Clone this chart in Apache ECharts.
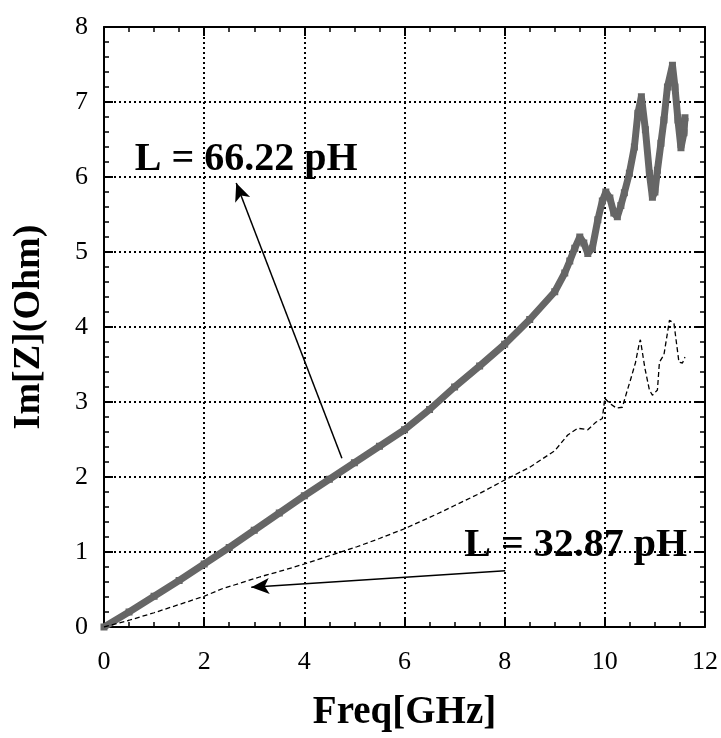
<!DOCTYPE html>
<html><head><meta charset="utf-8">
<script src="https://cdn.jsdelivr.net/npm/echarts@6/dist/echarts.min.js"></script>
<style>html,body{margin:0;padding:0;background:#fff}#c{width:721px;height:738px}</style>
</head><body><div id="c"></div>
<script>
// L = 66.22 pH curve (GHz, Ohm)
const thickX = [0,0.5,1,1.5,2,2.5,3,3.5,4,4.5,5,5.5,6,6.5,7,7.5,8,8.5,9,9.2,9.3,9.4,9.5,9.58,9.66,9.75,9.86,9.95,10.02,10.1,10.18,10.25,10.32,10.39,10.49,10.59,10.66,10.73,10.81,10.89,10.95,11.0,11.05,11.12,11.18,11.25,11.35,11.4,11.46,11.52,11.58,11.6];
const thickY = [0,0.2,0.41,0.62,0.84,1.06,1.29,1.52,1.75,1.97,2.19,2.41,2.63,2.9,3.2,3.48,3.77,4.1,4.47,4.72,4.88,5.05,5.2,5.12,4.98,5.05,5.43,5.68,5.8,5.72,5.52,5.47,5.62,5.79,6.05,6.4,6.85,7.07,6.63,6.05,5.73,5.8,6.09,6.45,6.76,7.2,7.49,7.2,6.76,6.39,6.59,6.79];
// L = 32.87 pH curve
const thinX = [0,0.5,1,1.5,2,2.36,2.6,3.12,3.5,4,4.5,5.05,5.5,6,6.66,7,7.5,8,8.5,9,9.26,9.46,9.66,9.82,9.95,10.0,10.1,10.23,10.35,10.41,10.51,10.61,10.69,10.71,10.8,10.89,10.95,11.05,11.09,11.18,11.25,11.29,11.38,11.48,11.55,11.6];
const thinY = [0,0.09,0.19,0.3,0.41,0.51,0.56,0.67,0.74,0.84,0.95,1.07,1.18,1.31,1.51,1.62,1.78,1.96,2.13,2.35,2.56,2.65,2.63,2.73,2.78,3.05,2.98,2.92,2.93,3.07,3.29,3.52,3.79,3.83,3.45,3.16,3.09,3.16,3.53,3.63,3.92,4.09,4.05,3.53,3.52,3.6];
const xTicks = [0,2,4,6,8,10,12];
const yTicks = [0,1,2,3,4,5,6,7,8];
const labels = [{text:'L = 66.22 pH', x:2.84, y:6.23},{text:'L = 32.87 pH', x:9.42, y:1.09}];
const arrows = [[[4.75,2.25],[2.64,5.92]],[[8.01,0.75],[2.94,0.53]]];

const font = 'Liberation Serif';
const zip = (a,b)=>a.map((v,i)=>[v,b[i]]);
const chart = echarts.init(document.getElementById('c'));
const axisCommon = (minor, main) => ({
  axisLine:{show:true,onZero:false,lineStyle:{color:'#000',width:2}},
  axisTick:{show:true,inside:true,length:9,lineStyle:{color:'#000',width:2}},
  minorTick:{show:true,splitNumber:minor,length:5,lineStyle:{color:'#000',width:1.5}},
  splitLine:{show:main,lineStyle:{color:'#000',type:[2,3],width:2}},
});
chart.setOption({
  animation:false,
  backgroundColor:'#fff',
  grid:{left:104,right:13,top:27,bottom:111},
  xAxis:[
    Object.assign({type:'value',min:xTicks[0],max:xTicks[xTicks.length-1],interval:2,position:'bottom',
      name:'Freq[GHz]',nameLocation:'middle',nameGap:66,
      nameTextStyle:{fontFamily:font,fontWeight:'bold',fontSize:39,color:'#000'},
      axisLabel:{fontFamily:font,fontSize:26,color:'#000',margin:22}}, axisCommon(4,true)),
    Object.assign({type:'value',min:xTicks[0],max:xTicks[xTicks.length-1],interval:2,position:'top',
      axisLabel:{show:false}}, axisCommon(4,false))
  ],
  yAxis:[
    Object.assign({type:'value',min:yTicks[0],max:yTicks[yTicks.length-1],interval:1,position:'left',
      name:'Im[Z](Ohm)',nameLocation:'middle',nameGap:56,
      nameTextStyle:{fontFamily:font,fontWeight:'bold',fontSize:38,color:'#000'},
      axisLabel:{fontFamily:font,fontSize:26,color:'#000',margin:16}}, axisCommon(5,true)),
    Object.assign({type:'value',min:yTicks[0],max:yTicks[yTicks.length-1],interval:1,position:'right',
      axisLabel:{show:false}}, axisCommon(5,false))
  ],
  series:[
    {type:'line',data:zip(thickX,thickY),symbol:'rect',symbolSize:7,showAllSymbol:true,
      itemStyle:{color:'#666'},lineStyle:{color:'#666',width:7},z:3},
    {type:'line',data:zip(thinX,thinY),symbol:'none',
      lineStyle:{color:'#000',width:1.3,type:[5,3]},z:4,
      markLine:{silent:true,symbol:['none','arrow'],symbolSize:[12,18],
        lineStyle:{color:'#000',type:'solid',width:1.5},label:{show:false},
        data:arrows.map(a=>[{coord:a[0],symbol:'none'},{coord:a[1]}])},
      markPoint:{symbol:'rect',symbolSize:1,itemStyle:{color:'rgba(0,0,0,0)'},
        label:{show:true,position:'inside',fontFamily:font,fontWeight:'bold',fontSize:40,color:'#000'},
        data:labels.map(l=>({coord:[l.x,l.y],value:l.text,label:{formatter:l.text}}))}
    }
  ]
});
</script></body></html>
